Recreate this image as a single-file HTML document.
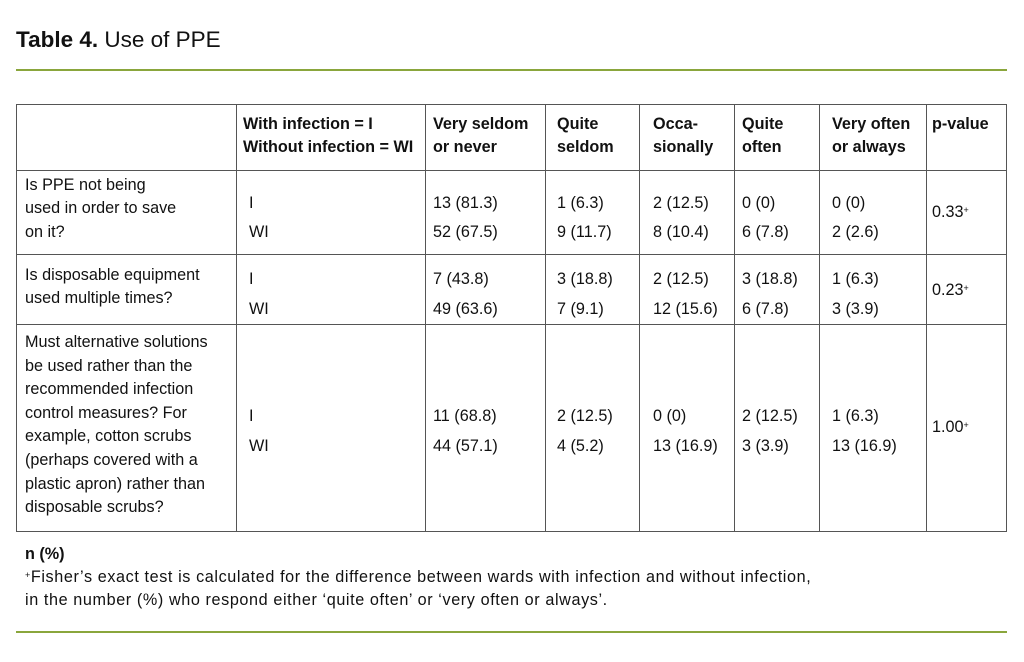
<!DOCTYPE html>
<html><head><meta charset="utf-8"><style>
body{margin:0;width:1024px;height:662px;background:#fff;position:relative;font-family:"Liberation Sans",Arial,sans-serif;color:#111;overflow:hidden}
.t{position:absolute;font-size:16.2px;line-height:23.3px;white-space:nowrap}
.b{font-weight:bold}
.hl{position:absolute;background:#555;height:1px}
.vl{position:absolute;background:#555;width:1px}
.g{position:absolute;left:16px;width:991px;height:2px;background:#8aa63c}
sup{font-size:9px;vertical-align:top;position:relative;top:-2px}
</style></head><body>
<div class="t" style="left:16px;top:25px;font-size:22.5px;line-height:30px"><b>Table 4.</b> Use of PPE</div>
<div class="g" style="top:69px"></div>
<div class="hl" style="left:16px;width:991px;top:104px"></div>
<div class="hl" style="left:16px;width:991px;top:170px"></div>
<div class="hl" style="left:16px;width:991px;top:254px"></div>
<div class="hl" style="left:16px;width:991px;top:324px"></div>
<div class="hl" style="left:16px;width:991px;top:531px"></div>
<div class="vl" style="left:16px;top:104px;height:428px"></div>
<div class="vl" style="left:236px;top:104px;height:428px"></div>
<div class="vl" style="left:425px;top:104px;height:428px"></div>
<div class="vl" style="left:545px;top:104px;height:428px"></div>
<div class="vl" style="left:639px;top:104px;height:428px"></div>
<div class="vl" style="left:734px;top:104px;height:428px"></div>
<div class="vl" style="left:819px;top:104px;height:428px"></div>
<div class="vl" style="left:926px;top:104px;height:428px"></div>
<div class="vl" style="left:1006px;top:104px;height:428px"></div>

<div class="t b" style="left:243px;top:113px">With infection = I<br>Without infection = WI</div>
<div class="t b" style="left:433px;top:113px">Very seldom<br>or never</div>
<div class="t b" style="left:557px;top:113px">Quite<br>seldom</div>
<div class="t b" style="left:653px;top:113px">Occa-<br>sionally</div>
<div class="t b" style="left:742px;top:113px">Quite<br>often</div>
<div class="t b" style="left:832px;top:113px">Very often<br>or always</div>
<div class="t b" style="left:932px;top:113px">p-value</div>

<div class="t" style="left:25px;top:174px">Is PPE not being<br>used in order to save<br>on it?</div>
<div class="t" style="left:249px;top:189px;line-height:29px">I<br>WI</div>
<div class="t" style="left:433px;top:189px;line-height:29px">13 (81.3)<br>52 (67.5)</div>
<div class="t" style="left:557px;top:189px;line-height:29px">1 (6.3)<br>9 (11.7)</div>
<div class="t" style="left:653px;top:189px;line-height:29px">2 (12.5)<br>8 (10.4)</div>
<div class="t" style="left:742px;top:189px;line-height:29px">0 (0)<br>6 (7.8)</div>
<div class="t" style="left:832px;top:189px;line-height:29px">0 (0)<br>2 (2.6)</div>
<div class="t" style="left:932px;top:201px">0.33<sup>+</sup></div>

<div class="t" style="left:25px;top:264px">Is disposable equipment<br>used multiple times?</div>
<div class="t" style="left:249px;top:264px;line-height:30px">I<br>WI</div>
<div class="t" style="left:433px;top:264px;line-height:30px">7 (43.8)<br>49 (63.6)</div>
<div class="t" style="left:557px;top:264px;line-height:30px">3 (18.8)<br>7 (9.1)</div>
<div class="t" style="left:653px;top:264px;line-height:30px">2 (12.5)<br>12 (15.6)</div>
<div class="t" style="left:742px;top:264px;line-height:30px">3 (18.8)<br>6 (7.8)</div>
<div class="t" style="left:832px;top:264px;line-height:30px">1 (6.3)<br>3 (3.9)</div>
<div class="t" style="left:932px;top:279px">0.23<sup>+</sup></div>

<div class="t" style="left:25px;top:331px;line-height:23.6px">Must alternative solutions<br>be used rather than the<br>recommended infection<br>control measures? For<br>example, cotton scrubs<br>(perhaps covered with a<br>plastic apron) rather than<br>disposable scrubs?</div>
<div class="t" style="left:249px;top:401px;line-height:30px">I<br>WI</div>
<div class="t" style="left:433px;top:401px;line-height:30px">11 (68.8)<br>44 (57.1)</div>
<div class="t" style="left:557px;top:401px;line-height:30px">2 (12.5)<br>4 (5.2)</div>
<div class="t" style="left:653px;top:401px;line-height:30px">0 (0)<br>13 (16.9)</div>
<div class="t" style="left:742px;top:401px;line-height:30px">2 (12.5)<br>3 (3.9)</div>
<div class="t" style="left:832px;top:401px;line-height:30px">1 (6.3)<br>13 (16.9)</div>
<div class="t" style="left:932px;top:416px">1.00<sup>+</sup></div>

<div class="t b" style="left:25px;top:543px">n (%)</div>
<div class="t" style="left:25px;top:566px;letter-spacing:0.6px"><sup>+</sup>Fisher’s exact test is calculated for the difference between wards with infection and without infection,<br>in the number (%) who respond either ‘quite often’ or ‘very often or always’.</div>
<div class="g" style="top:631px"></div>
</body></html>
